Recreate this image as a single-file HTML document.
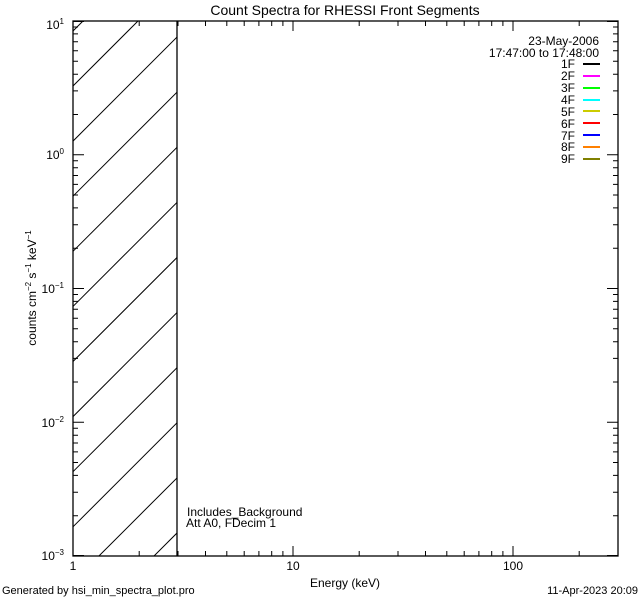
<!DOCTYPE html>
<html><head><meta charset="utf-8"><style>
html,body{margin:0;padding:0;background:#fff;overflow:hidden;width:640px;height:600px}
svg{display:block}
svg text{font-family:"Liberation Sans",sans-serif;fill:#000}
</style></head><body>
<svg width="640" height="600" viewBox="0 0 640 600" xmlns="http://www.w3.org/2000/svg">
<defs><clipPath id="c"><rect x="73" y="21" width="104" height="535"/></clipPath></defs>
<rect width="640" height="600" fill="#fff"/>
<g clip-path="url(#c)" stroke="#000" stroke-width="1">
<line x1="73" y1="31" x2="200" y2="-96"/>
<line x1="73" y1="86" x2="250" y2="-91"/>
<line x1="73" y1="141.1" x2="300" y2="-85.9"/>
<line x1="73" y1="196.2" x2="400" y2="-130.8"/>
<line x1="73" y1="251.3" x2="400" y2="-75.7"/>
<line x1="73" y1="306.4" x2="400" y2="-20.6"/>
<line x1="73" y1="361.5" x2="400" y2="34.5"/>
<line x1="73" y1="416.6" x2="400" y2="89.6"/>
<line x1="73" y1="471.7" x2="400" y2="144.7"/>
<line x1="73" y1="526.8" x2="400" y2="199.8"/>
<line x1="73" y1="581.9" x2="400" y2="254.9"/>
<line x1="73" y1="637" x2="400" y2="310"/>
</g>
<line x1="177" y1="21" x2="177" y2="556" stroke="#000" stroke-width="1.3"/>
<rect x="73" y="21" width="545" height="535" fill="none" stroke="#000" stroke-width="1.3"/>
<path stroke="#000" stroke-width="1" fill="none" d="
M293 556v-10M513 556v-10M293 21v10M513 21v10
M139.2 556v-5M178 556v-5M205.5 556v-5M226.8 556v-5M244.2 556v-5M258.9 556v-5M271.7 556v-5M282.9 556v-5
M359.2 556v-5M398 556v-5M425.5 556v-5M446.8 556v-5M464.2 556v-5M478.9 556v-5M491.7 556v-5M502.9 556v-5M579.2 556v-5
M139.2 21v5M178 21v5M205.5 21v5M226.8 21v5M244.2 21v5M258.9 21v5M271.7 21v5M282.9 21v5
M359.2 21v5M398 21v5M425.5 21v5M446.8 21v5M464.2 21v5M478.9 21v5M491.7 21v5M502.9 21v5M579.2 21v5
M73 422.25h11M73 288.5h11M73 154.75h11M618 422.25h-11M618 288.5h-11M618 154.75h-11M73 21.5h11M618 21.5h-11M73 555.5h11M618 555.5h-11
M73 515.7h5M73 492.2h5M73 475.4h5M73 462.5h5M73 451.9h5M73 443h5M73 435.2h5M73 428.2h5
M73 382h5M73 358.4h5M73 341.7h5M73 328.8h5M73 318.2h5M73 309.2h5M73 301.4h5M73 294.5h5
M73 248.2h5M73 224.7h5M73 207.9h5M73 195h5M73 184.4h5M73 175.5h5M73 167.7h5M73 160.7h5
M73 114.5h5M73 90.9h5M73 74.2h5M73 61.3h5M73 50.7h5M73 41.7h5M73 33.9h5M73 27h5
M618 515.7h-5M618 492.2h-5M618 475.4h-5M618 462.5h-5M618 451.9h-5M618 443h-5M618 435.2h-5M618 428.2h-5
M618 382h-5M618 358.4h-5M618 341.7h-5M618 328.8h-5M618 318.2h-5M618 309.2h-5M618 301.4h-5M618 294.5h-5
M618 248.2h-5M618 224.7h-5M618 207.9h-5M618 195h-5M618 184.4h-5M618 175.5h-5M618 167.7h-5M618 160.7h-5
M618 114.5h-5M618 90.9h-5M618 74.2h-5M618 61.3h-5M618 50.7h-5M618 41.7h-5M618 33.9h-5M618 27h-5"/>
<text x="345" y="15" font-size="14" text-anchor="middle">Count Spectra for RHESSI Front Segments</text>
<g font-size="12" text-anchor="middle">
<text x="73" y="570">1</text><text x="293" y="570">10</text><text x="513" y="570">100</text>
<text x="345" y="587">Energy (keV)</text>
</g>
<g font-size="12" text-anchor="end">
<text x="64" y="29">10<tspan font-size="8" dy="-5">1</tspan></text>
<text x="64" y="159">10<tspan font-size="8" dy="-5">0</tspan></text>
<text x="64" y="293">10<tspan font-size="8" dy="-5">−1</tspan></text>
<text x="64" y="427">10<tspan font-size="8" dy="-5">−2</tspan></text>
<text x="64" y="560">10<tspan font-size="8" dy="-5">−3</tspan></text>
</g>
<text transform="translate(36,288) rotate(-90)" font-size="12" text-anchor="middle">counts cm<tspan font-size="8" dy="-5">−2</tspan><tspan dy="5"> s</tspan><tspan font-size="8" dy="-5">−1</tspan><tspan dy="5"> keV</tspan><tspan font-size="8" dy="-5">−1</tspan></text>
<text x="187" y="516" font-size="12">Includes_Background</text>
<text x="186" y="527" font-size="12">Att A0, FDecim 1</text>
<g font-size="12" text-anchor="end">
<text x="599" y="45">23-May-2006</text>
<text x="599" y="57">17:47:00 to 17:48:00</text>
<text x="575" y="68">1F</text><text x="575" y="80">2F</text><text x="575" y="92">3F</text>
<text x="575" y="104">4F</text><text x="575" y="116">5F</text><text x="575" y="128">6F</text>
<text x="575" y="140">7F</text><text x="575" y="151">8F</text><text x="575" y="163">9F</text>
</g>
<g stroke-width="2">
<line x1="583" x2="600" y1="64" y2="64" stroke="#000"/>
<line x1="583" x2="600" y1="76" y2="76" stroke="#ff00ff"/>
<line x1="583" x2="600" y1="88" y2="88" stroke="#00ff00"/>
<line x1="583" x2="600" y1="100" y2="100" stroke="#00ffff"/>
<line x1="583" x2="600" y1="111" y2="111" stroke="#cccc00"/>
<line x1="583" x2="600" y1="123" y2="123" stroke="#ff0000"/>
<line x1="583" x2="600" y1="135" y2="135" stroke="#0000ff"/>
<line x1="583" x2="600" y1="147" y2="147" stroke="#ff8000"/>
<line x1="583" x2="600" y1="159" y2="159" stroke="#808000"/>
</g>
<text x="2" y="594" font-size="11">Generated by hsi_min_spectra_plot.pro</text>
<text x="638" y="594" font-size="11" text-anchor="end">11-Apr-2023 20:09</text>
</svg>
</body></html>
